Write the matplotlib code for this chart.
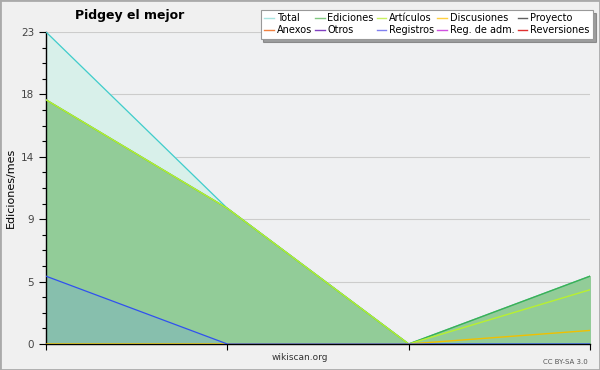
import numpy as np
import matplotlib
matplotlib.use('Agg')
import matplotlib.pyplot as plt
from matplotlib.lines import Line2D
from matplotlib.patches import Rectangle

# data (edits per month)
months = [0, 1, 2, 3]
total = [23, 10, 0, 5]
ediciones = [18, 10, 0, 5]
articulos = [18, 10, 0, 4]
discusiones = [0, 0, 0, 1]
registros = [5, 0, 0, 0]

legend_names = ['Total', 'Ediciones', 'Artículos', 'Discusiones', 'Proyecto',
                'Anexos', 'Otros', 'Registros', 'Reg. de adm.', 'Reversiones']
legend_colors = ['#a8e4e0', '#80c880', '#c8f060', '#ffd040', '#606060',
                 '#f08040', '#8040c0', '#8080f0', '#d050e0', '#e03030']

plt.rcParams['font.family'] = 'DejaVu Sans'

fig = plt.figure(figsize=(6, 3.7), dpi=100, facecolor='#f0f0f0')
ax = fig.add_axes([46/600, 26/370, 544/600, 312/370])
ax.set_facecolor('#eff0f2')

# filled areas
ax.fill_between(months, total, color='#d8f0ea', zorder=1)
ax.plot(months, total, color='#40cccc', lw=0.9, zorder=3)
ax.fill_between(months, ediciones, color='#92cc98', zorder=2)
ax.plot(months, ediciones, color='#40b050', lw=1.0, zorder=3)
ax.plot(months, articulos, color='#b8f030', lw=1.0, zorder=4)
ax.plot(months, discusiones, color='#f0c000', lw=1.0, zorder=4)
ax.fill_between(months, registros, color='#7ab0c8', alpha=0.45, zorder=2.5, lw=0)
ax.plot(months, registros, color='#3050f0', lw=0.9, zorder=4)

ax.set_xlim(0, 3)
ax.set_ylim(0, 23)
yt = [23 * i / 5 for i in range(6)]
ax.set_yticks(yt)
ax.set_yticklabels([str(int(round(v))) for v in yt], fontsize=7.5, color='#444444')
ax.set_yticks(np.arange(0, 23.01, 23 / 20), minor=True)
ax.set_xticks([0, 1, 2, 3])
ax.set_xticklabels([])
ax.tick_params(axis='y', which='major', length=5, width=0.8)
ax.tick_params(axis='y', which='minor', length=3, width=0.8)
ax.tick_params(axis='x', length=4, width=0.8)
ax.grid(axis='y', color='#cccccc', lw=0.8, zorder=0)
ax.set_axisbelow(True)
for s in ['top', 'right']:
    ax.spines[s].set_visible(False)
ax.spines['left'].set_linewidth(1.0)
ax.spines['bottom'].set_linewidth(1.0)

ax.set_ylabel('Ediciones/mes', fontsize=8, labelpad=4)
fig.text(130/600, 1 - 15/370, 'Pidgey el mejor', fontsize=9, fontweight='bold',
         ha='center', va='center')
fig.text(300/600, 1 - 358/370, 'wikiscan.org', fontsize=6.5, ha='center',
         va='center', color='#333333')
fig.text(588/600, 1 - 362/370, 'CC BY-SA 3.0', fontsize=5, ha='right',
         va='center', color='#555555')

# legend, laid out row by row like the original
order = [0, 5, 1, 6, 2, 7, 3, 8, 4, 9]
handles = [Line2D([], [], color=legend_colors[i], lw=1) for i in order]
labels = [legend_names[i] for i in order]
leg = fig.legend(handles, labels, ncol=5, loc='upper right',
                 bbox_to_anchor=(593/600, 1 - 10/370), fontsize=7,
                 frameon=True, fancybox=False, shadow=True,
                 handlelength=1.0, handletextpad=0.3, columnspacing=0.3,
                 labelspacing=0.2, borderpad=0.35, edgecolor='#999999',
                 borderaxespad=0)
leg.get_frame().set_linewidth(0.8)

fig.patches.append(Rectangle((0, 0), 1, 1, transform=fig.transFigure,
                             fill=False, edgecolor='#aaaaaa', lw=2))

fig.savefig('out.png', dpi=100, facecolor=fig.get_facecolor())
